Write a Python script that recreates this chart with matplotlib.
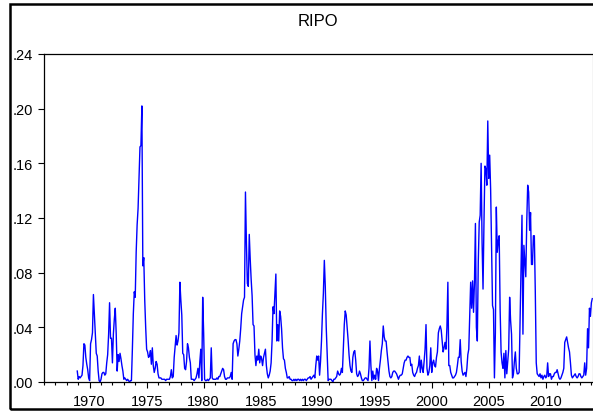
import matplotlib
matplotlib.use("Agg")
import matplotlib.pyplot as plt
from matplotlib.patches import Rectangle
from matplotlib.ticker import FixedLocator, MultipleLocator
import numpy as np
import pandas as pd

plt.rcParams["font.family"] = ["Liberation Sans", "DejaVu Sans"]

# Monthly RIPO series, first observation December 1968
start_month = "1968-12-01"
ripo_1968 = [0.008]
ripo_1970s_pre = [  # 1969
    0.002, 0.004, 0.003, 0.004, 0.005, 0.012, 0.028, 0.027, 0.018, 0.013, 0.009, 0.003,
]
ripo_1970s = [
    0.001, 0.028, 0.031, 0.036, 0.064, 0.050, 0.035, 0.021, 0.019, 0.008, 0.001, 0.000,  # 1970
    0.002, 0.006, 0.007, 0.007, 0.005, 0.006, 0.014, 0.020, 0.035, 0.058, 0.032, 0.032,  # 1971
    0.014, 0.035, 0.046, 0.054, 0.035, 0.008, 0.020, 0.015, 0.021, 0.017, 0.012, 0.008,  # 1972
    0.002, 0.003, 0.002, 0.001, 0.002, 0.001, 0.000, 0.001, 0.001, 0.024, 0.050, 0.066,  # 1973
    0.062, 0.095, 0.115, 0.127, 0.150, 0.172, 0.173, 0.202, 0.085, 0.091, 0.060, 0.040,  # 1974
    0.024, 0.022, 0.018, 0.019, 0.023, 0.013, 0.025, 0.012, 0.007, 0.010, 0.015, 0.013,  # 1975
    0.006, 0.003, 0.003, 0.003, 0.002, 0.002, 0.002, 0.002, 0.001, 0.002, 0.002, 0.002,  # 1976
    0.002, 0.004, 0.009, 0.003, 0.004, 0.018, 0.026, 0.034, 0.027, 0.030, 0.036, 0.073,  # 1977
    0.060, 0.049, 0.021, 0.020, 0.010, 0.009, 0.015, 0.028, 0.025, 0.018, 0.014, 0.002,  # 1978
    0.002, 0.002, 0.001, 0.002, 0.003, 0.006, 0.010, 0.003, 0.015, 0.024, 0.001, 0.062,  # 1979
]
ripo_1980s = [
    0.036, 0.002, 0.001, 0.001, 0.002, 0.001, 0.002, 0.003, 0.025, 0.003, 0.002, 0.002,  # 1980
    0.002, 0.002, 0.003, 0.002, 0.004, 0.004, 0.006, 0.008, 0.010, 0.009, 0.004, 0.002,  # 1981
    0.002, 0.003, 0.003, 0.003, 0.004, 0.007, 0.002, 0.028, 0.030, 0.031, 0.031, 0.028,  # 1982
    0.019, 0.024, 0.030, 0.039, 0.050, 0.055, 0.060, 0.062, 0.139, 0.102, 0.072, 0.070,  # 1983
    0.108, 0.090, 0.075, 0.063, 0.042, 0.041, 0.020, 0.012, 0.019, 0.016, 0.024, 0.014,  # 1984
    0.019, 0.017, 0.012, 0.018, 0.021, 0.024, 0.012, 0.006, 0.003, 0.005, 0.008, 0.014,  # 1985
    0.030, 0.055, 0.050, 0.065, 0.079, 0.030, 0.042, 0.030, 0.052, 0.048, 0.039, 0.025,  # 1986
    0.017, 0.016, 0.010, 0.007, 0.003, 0.003, 0.004, 0.002, 0.002, 0.001, 0.001, 0.002,  # 1987
    0.001, 0.002, 0.001, 0.002, 0.002, 0.001, 0.002, 0.001, 0.002, 0.001, 0.002, 0.002,  # 1988
    0.001, 0.002, 0.003, 0.003, 0.004, 0.002, 0.003, 0.004, 0.005, 0.003, 0.012, 0.019,  # 1989
]
ripo_1990s = [
    0.016, 0.019, 0.005, 0.015, 0.030, 0.050, 0.065, 0.089, 0.070, 0.040, 0.020, 0.001,  # 1990
    0.002, 0.002, 0.002, 0.001, 0.000, 0.002, 0.002, 0.003, 0.004, 0.008, 0.006, 0.005,  # 1991
    0.006, 0.010, 0.007, 0.025, 0.042, 0.052, 0.049, 0.040, 0.031, 0.020, 0.012, 0.008,  # 1992
    0.007, 0.018, 0.022, 0.023, 0.016, 0.006, 0.004, 0.005, 0.008, 0.006, 0.003, 0.001,  # 1993
    0.001, 0.002, 0.003, 0.003, 0.002, 0.001, 0.010, 0.030, 0.012, 0.001, 0.008, 0.002,  # 1994
    0.005, 0.002, 0.010, 0.008, 0.001, 0.010, 0.016, 0.023, 0.028, 0.041, 0.033, 0.030,  # 1995
    0.030, 0.022, 0.015, 0.008, 0.004, 0.003, 0.004, 0.007, 0.008, 0.008, 0.007, 0.006,  # 1996
    0.004, 0.002, 0.004, 0.005, 0.005, 0.006, 0.010, 0.014, 0.016, 0.016, 0.018, 0.019,  # 1997
    0.018, 0.018, 0.012, 0.013, 0.007, 0.005, 0.004, 0.006, 0.007, 0.010, 0.012, 0.019,  # 1998
    0.007, 0.016, 0.010, 0.007, 0.015, 0.024, 0.042, 0.010, 0.005, 0.007, 0.012, 0.025,  # 1999
]
ripo_2000s = [
    0.007, 0.014, 0.016, 0.012, 0.011, 0.018, 0.022, 0.036, 0.039, 0.041, 0.038, 0.030,  # 2000
    0.022, 0.025, 0.029, 0.024, 0.040, 0.073, 0.012, 0.012, 0.007, 0.005, 0.003, 0.003,  # 2001
    0.004, 0.005, 0.007, 0.012, 0.018, 0.018, 0.031, 0.015, 0.008, 0.005, 0.006, 0.007,  # 2002
    0.004, 0.010, 0.020, 0.024, 0.050, 0.073, 0.054, 0.074, 0.051, 0.073, 0.116, 0.040,  # 2003
    0.030, 0.088, 0.117, 0.122, 0.160, 0.102, 0.068, 0.117, 0.158, 0.156, 0.144, 0.191,  # 2004
    0.149, 0.166, 0.141, 0.100, 0.056, 0.053, 0.003, 0.036, 0.128, 0.095, 0.103, 0.107,  # 2005
    0.053, 0.022, 0.014, 0.010, 0.021, 0.003, 0.023, 0.006, 0.015, 0.024, 0.062, 0.045,  # 2006
    0.035, 0.003, 0.006, 0.015, 0.022, 0.010, 0.006, 0.006, 0.007, 0.044, 0.085, 0.122,  # 2007
    0.035, 0.100, 0.088, 0.077, 0.117, 0.144, 0.139, 0.111, 0.124, 0.086, 0.086, 0.107,  # 2008
    0.107, 0.066, 0.014, 0.006, 0.005, 0.004, 0.006, 0.003, 0.005, 0.002, 0.004, 0.005,  # 2009
]
ripo_2010s = [
    0.003, 0.004, 0.014, 0.004, 0.006, 0.006, 0.002, 0.004, 0.004, 0.006, 0.007, 0.007,  # 2010
    0.009, 0.006, 0.003, 0.002, 0.003, 0.005, 0.007, 0.010, 0.029, 0.031, 0.033, 0.029,  # 2011
    0.025, 0.022, 0.014, 0.005, 0.003, 0.004, 0.005, 0.006, 0.004, 0.003, 0.004, 0.006,  # 2012
    0.006, 0.004, 0.003, 0.004, 0.005, 0.014, 0.005, 0.010, 0.039, 0.025, 0.054, 0.048,  # 2013
    0.058, 0.061,                                                                        # 2014
]

y_ticks = [0.00, 0.04, 0.08, 0.12, 0.16, 0.20, 0.24]
y_tick_labels = [".00", ".04", ".08", ".12", ".16", ".20", ".24"]
x_major_years = [1970, 1975, 1980, 1985, 1990, 1995, 2000, 2005, 2010]
x_range = (1966.0, 2014.1)

values = np.array(ripo_1968 + ripo_1970s_pre + ripo_1970s + ripo_1980s
                  + ripo_1990s + ripo_2000s + ripo_2010s)
dates = pd.date_range(start_month, periods=len(values), freq="MS")
t = dates.year + (dates.month - 1) / 12.0

W, H = 593, 414
fig = plt.figure(figsize=(W / 100, H / 100), dpi=100)
fig.patch.set_facecolor("white")

# outer frame of the graph window
fig.add_artist(Rectangle((9.5 / W, 4.5 / H), 2.0, (409.5 - 5) / H,
                         transform=fig.transFigure, fill=False,
                         lw=1.8, ec="black"))

ax = fig.add_axes([44 / W, (H - 383) / H, (592.5 - 44) / W, (383 - 55) / H])
ax.plot(t, values, color="#0000ff", lw=1.0)

ax.set_xlim(*x_range)
ax.set_ylim(y_ticks[0], y_ticks[-1])
ax.set_yticks(y_ticks)
ax.set_yticklabels(y_tick_labels)
ax.xaxis.set_major_locator(FixedLocator(x_major_years))
ax.xaxis.set_minor_locator(MultipleLocator(1))
ax.set_xticklabels([str(y) for y in x_major_years])

ax.tick_params(axis="y", direction="out", length=4.3, width=0.8,
               pad=3.5, labelsize=10.5, colors="black")
ax.tick_params(axis="x", which="major", direction="out", length=4.3,
               width=0.8, pad=4.5, labelsize=10.5)
ax.tick_params(axis="x", which="minor", direction="out", length=2.3,
               width=0.8)

for side in ("left", "top", "bottom"):
    ax.spines[side].set_linewidth(0.9)
    ax.spines[side].set_color("black")
ax.spines["right"].set_color("#b0b0b0")
ax.spines["right"].set_linewidth(0.9)

fig.text(318 / W, 1 - 21 / H, "RIPO", fontsize=12, ha="center", va="center")

fig.savefig("out.png", dpi=100)
